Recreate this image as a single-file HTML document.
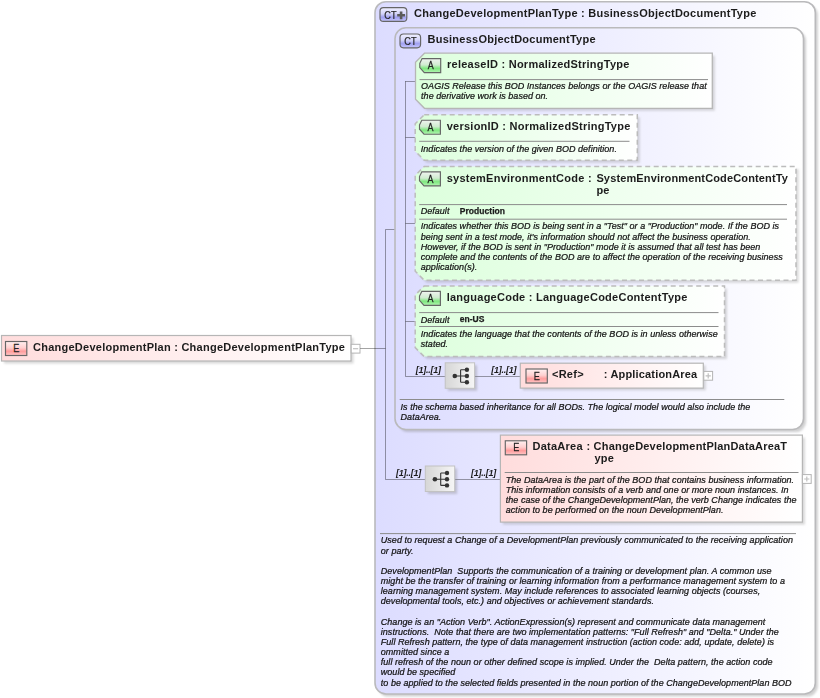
<!DOCTYPE html>
<html><head><meta charset="utf-8"><title>ChangeDevelopmentPlan</title>
<style>
html,body{margin:0;padding:0;background:#ffffff;}
svg{display:block;font-family:"Liberation Sans",sans-serif;}
text{fill:#1c1c1c;}
</style></head><body>
<svg width="820" height="698" viewBox="0 0 820 698">
<defs>
<filter id="blur" x="-10%" y="-10%" width="120%" height="120%"><feGaussianBlur stdDeviation="1"/></filter>
<linearGradient id="gOuter" gradientUnits="userSpaceOnUse" x1="375" y1="0" x2="815" y2="0"><stop offset="0" stop-color="#dcdcff"/><stop offset="1" stop-color="#ffffff"/></linearGradient>
<linearGradient id="gInner" gradientUnits="userSpaceOnUse" x1="395" y1="0" x2="803" y2="0"><stop offset="0" stop-color="#dcdcff"/><stop offset="1" stop-color="#ffffff"/></linearGradient>
<linearGradient id="gRoot" gradientUnits="userSpaceOnUse" x1="1" y1="0" x2="351" y2="0"><stop offset="0" stop-color="#ffdcdc"/><stop offset="1" stop-color="#ffffff"/></linearGradient>
<linearGradient id="gRef" gradientUnits="userSpaceOnUse" x1="520" y1="0" x2="703" y2="0"><stop offset="0" stop-color="#ffdcdc"/><stop offset="1" stop-color="#ffffff"/></linearGradient>
<linearGradient id="gData" gradientUnits="userSpaceOnUse" x1="500" y1="0" x2="802" y2="0"><stop offset="0" stop-color="#ffdcdc"/><stop offset="1" stop-color="#ffffff"/></linearGradient>
<linearGradient id="gA" x1="0" y1="0" x2="0" y2="1"><stop offset="0" stop-color="#f0f4f0"/><stop offset="0.45" stop-color="#d0ecd0"/><stop offset="0.7" stop-color="#7ee87e"/><stop offset="1" stop-color="#b4f4b4"/></linearGradient>
<linearGradient id="gE" x1="0" y1="0" x2="0" y2="1"><stop offset="0" stop-color="#fff0f0"/><stop offset="0.45" stop-color="#ffd0d0"/><stop offset="0.7" stop-color="#ff9c9c"/><stop offset="1" stop-color="#ffc8c8"/></linearGradient>
<linearGradient id="gCT" x1="0" y1="0" x2="0" y2="1"><stop offset="0" stop-color="#f0f0ff"/><stop offset="0.45" stop-color="#d4d4fa"/><stop offset="0.7" stop-color="#a0a0f0"/><stop offset="1" stop-color="#c8c8ff"/></linearGradient>
</defs>
<g opacity="0.999">

<rect x="4.0" y="338.0" width="349.5" height="25.5" rx="0" fill="#808080" opacity="0.3" filter="url(#blur)"/>
<rect x="1.5" y="335.5" width="349.5" height="25.5" fill="url(#gRoot)" stroke="#b6b6b6" stroke-width="1.2"/>
<rect x="5.5" y="341.5" width="21.3" height="14" fill="url(#gE)" stroke="#666666" stroke-width="1.15"/>
<text transform="translate(16.4,352.5) scale(0.86,1)" font-size="10.6" dy="-0.4" text-anchor="middle" fill="#2a2a2a" stroke="#2a2a2a" stroke-width="0.25">E</text>
<text x="33" y="350.5" font-size="11" font-weight="bold" letter-spacing="0.25" >ChangeDevelopmentPlan : ChangeDevelopmentPlanType</text>
<rect x="351.2" y="344.3" width="8.8" height="8.8" fill="#ffffff" stroke="#b4b4b4" stroke-width="1"/>
<path d="M352.99999999999994,348.7 H358.2" stroke="#c0c0c0" stroke-width="1.2" fill="none"/>
<rect x="377.6" y="4.3" width="440.29999999999995" height="692.3" rx="11" fill="#808080" opacity="0.36" filter="url(#blur)"/>
<rect x="375" y="1.7" width="440.29999999999995" height="692.3" rx="11" fill="url(#gOuter)" stroke="#bababc" stroke-width="1.6"/>
<rect x="380" y="7.6" width="26.8" height="13.8" rx="3.5" fill="url(#gCT)" stroke="#666666" stroke-width="1.15"/>
<text transform="translate(384.3,18.5) scale(0.88,1)" font-size="10.4" fill="#333" stroke="#333" stroke-width="0.25">CT</text>
<path d="M397.20000000000005,15.3 H405.0 M401.1,11.4 V19.2" stroke="#5a5a5a" stroke-width="2.6" fill="none"/>
<text x="414" y="17.2" font-size="11" font-weight="bold" letter-spacing="0.25" >ChangeDevelopmentPlanType : BusinessObjectDocumentType</text>
<path d="M360.2,348.5 H385.5" stroke="#000000" stroke-width="1" stroke-opacity="0.36" fill="none"/>
<path d="M385.5,229.5 V479.5" stroke="#000000" stroke-width="1" stroke-opacity="0.36" fill="none"/>
<path d="M385.5,229.5 H405.5" stroke="#000000" stroke-width="1" stroke-opacity="0.36" fill="none"/>
<path d="M385.5,479.5 H425.3" stroke="#000000" stroke-width="1" stroke-opacity="0.36" fill="none"/>
<rect x="397.6" y="30.400000000000002" width="408.5" height="401.7" rx="11" fill="#808080" opacity="0.36" filter="url(#blur)"/>
<rect x="395" y="27.8" width="408.5" height="401.7" rx="11" fill="url(#gInner)" stroke="#bababc" stroke-width="1.6"/>
<rect x="400" y="34" width="20.6" height="13.8" rx="3.5" fill="url(#gCT)" stroke="#666666" stroke-width="1.15"/>
<text transform="translate(404.3,44.9) scale(0.88,1)" font-size="10.4" fill="#333" stroke="#333" stroke-width="0.25">CT</text>
<text x="427.5" y="42.9" font-size="11" font-weight="bold" letter-spacing="0.25" >BusinessObjectDocumentType</text>
<path d="M405.5,81 V376.5" stroke="#000000" stroke-width="1" stroke-opacity="0.36" fill="none"/>
<path d="M405.5,81.5 H415.5" stroke="#000000" stroke-width="1" stroke-opacity="0.36" fill="none"/>
<path d="M427.0,55.7 L714.8,55.7 L714.8,110.8 L427.0,110.8 L418.0,101.8 L418.0,64.7 Z" fill="#808080" opacity="0.3" filter="url(#blur)"/>
<defs><linearGradient id="gAt1" gradientUnits="userSpaceOnUse" x1="415.5" y1="0" x2="712.3" y2="0"><stop offset="0" stop-color="#dcffdc"/><stop offset="1" stop-color="#ffffff"/></linearGradient></defs>
<path d="M424.5,53.2 L712.3,53.2 L712.3,108.3 L424.5,108.3 L415.5,99.3 L415.5,62.2 Z" fill="url(#gAt1)" stroke="#b6b6b6" stroke-width="1.3"/>
<path d="M422.1,58.6 L440.7,58.6 L440.7,72.6 L424.3,72.6 L419.8,67.6 L419.8,63.300000000000004 Z" fill="url(#gA)" stroke="#666666" stroke-width="1.15"/>
<text transform="translate(430.8,69.4) scale(0.86,1)" font-size="10.4" text-anchor="middle" fill="#2a2a2a" stroke="#2a2a2a" stroke-width="0.25">A</text>
<text x="447" y="67.5" font-size="11" font-weight="bold" letter-spacing="0.25" >releaseID : NormalizedStringType</text>
<path d="M419.5,79.6 H708" stroke="#8c8c8c" stroke-width="1" fill="none"/>
<text x="421.1" y="89.1" font-size="9" font-style="italic" letter-spacing="0.03" fill="#000" stroke="#000" stroke-width="0.22" >OAGIS Release this BOD Instances belongs or the OAGIS release that</text>
<text x="421.1" y="99.27" font-size="9" font-style="italic" letter-spacing="0.03" fill="#000" stroke="#000" stroke-width="0.22" >the derivative work is based on.</text>
<path d="M405.5,137.5 H415.2" stroke="#000000" stroke-width="1" stroke-opacity="0.36" fill="none"/>
<path d="M426.7,117.3 L639.8,117.3 L639.8,162.7 L426.7,162.7 L417.7,153.7 L417.7,126.3 Z" fill="#808080" opacity="0.3" filter="url(#blur)"/>
<defs><linearGradient id="gAt2" gradientUnits="userSpaceOnUse" x1="415.2" y1="0" x2="637.3" y2="0"><stop offset="0" stop-color="#dcffdc"/><stop offset="1" stop-color="#ffffff"/></linearGradient></defs>
<path d="M424.2,114.8 L637.3,114.8 L637.3,160.2 L424.2,160.2 L415.2,151.2 L415.2,123.8 Z" fill="url(#gAt2)" stroke="#bcbcbc" stroke-width="1.5" stroke-dasharray="5 3.5"/>
<path d="M421.8,120.2 L440.4,120.2 L440.4,134.2 L424.0,134.2 L419.5,129.2 L419.5,124.9 Z" fill="url(#gA)" stroke="#666666" stroke-width="1.15"/>
<text transform="translate(430.5,131.0) scale(0.86,1)" font-size="10.4" text-anchor="middle" fill="#2a2a2a" stroke="#2a2a2a" stroke-width="0.25">A</text>
<text x="446.7" y="129.9" font-size="11" font-weight="bold" letter-spacing="0.25" >versionID : NormalizedStringType</text>
<path d="M419.2,141.3 H629.5" stroke="#8c8c8c" stroke-width="1" fill="none"/>
<text x="420.8" y="151.7" font-size="9" font-style="italic" letter-spacing="0.03" fill="#000" stroke="#000" stroke-width="0.22" >Indicates the version of the given BOD definition.</text>
<path d="M405.5,223.5 H415.2" stroke="#000000" stroke-width="1" stroke-opacity="0.36" fill="none"/>
<path d="M426.7,169.0 L798.5,169.0 L798.5,282.7 L426.7,282.7 L417.7,273.7 L417.7,178.0 Z" fill="#808080" opacity="0.3" filter="url(#blur)"/>
<defs><linearGradient id="gAt3" gradientUnits="userSpaceOnUse" x1="415.2" y1="0" x2="796" y2="0"><stop offset="0" stop-color="#dcffdc"/><stop offset="1" stop-color="#ffffff"/></linearGradient></defs>
<path d="M424.2,166.5 L796,166.5 L796,280.2 L424.2,280.2 L415.2,271.2 L415.2,175.5 Z" fill="url(#gAt3)" stroke="#bcbcbc" stroke-width="1.5" stroke-dasharray="5 3.5"/>
<path d="M421.8,171.9 L440.4,171.9 L440.4,185.9 L424.0,185.9 L419.5,180.9 L419.5,176.6 Z" fill="url(#gA)" stroke="#666666" stroke-width="1.15"/>
<text transform="translate(430.5,182.70000000000002) scale(0.86,1)" font-size="10.4" text-anchor="middle" fill="#2a2a2a" stroke="#2a2a2a" stroke-width="0.25">A</text>
<text x="446.7" y="181.6" font-size="11" font-weight="bold" letter-spacing="0.25" >systemEnvironmentCode : </text>
<text x="596.4" y="181.6" font-size="11" font-weight="bold" letter-spacing="0.14" >SystemEnvironmentCodeContentTy</text>
<text x="596.4" y="194.3" font-size="11" font-weight="bold" letter-spacing="0.25" >pe</text>
<path d="M419.2,204.6 H787" stroke="#8c8c8c" stroke-width="1" fill="none"/>
<path d="M419.2,219.2 H787" stroke="#8c8c8c" stroke-width="1" fill="none"/>
<text x="420.7" y="214.2" font-size="9" font-style="italic" letter-spacing="0.03" fill="#000" stroke="#000" stroke-width="0.22" >Default</text>
<text x="459.7" y="213.6" font-size="8.5" font-weight="bold" letter-spacing="0.05" stroke="#1c1c1c" stroke-width="0.25">Production</text>
<text x="420.8" y="229.4" font-size="9" font-style="italic" letter-spacing="0.03" fill="#000" stroke="#000" stroke-width="0.22" >Indicates whether this BOD is being sent in a "Test" or a "Production" mode. If the BOD is</text>
<text x="420.8" y="239.57" font-size="9" font-style="italic" letter-spacing="0.03" fill="#000" stroke="#000" stroke-width="0.22" >being sent in a test mode, it's information should not affect the business operation.</text>
<text x="420.8" y="249.74" font-size="9" font-style="italic" letter-spacing="0.03" fill="#000" stroke="#000" stroke-width="0.22" >However, if the BOD is sent in "Production" mode it is assumed that all test has been</text>
<text x="420.8" y="259.91" font-size="9" font-style="italic" letter-spacing="0.03" fill="#000" stroke="#000" stroke-width="0.22" >complete and the contents of the BOD are to affect the operation of the receiving business</text>
<text x="420.8" y="270.08" font-size="9" font-style="italic" letter-spacing="0.03" fill="#000" stroke="#000" stroke-width="0.22" >application(s).</text>
<path d="M405.5,321.5 H415.2" stroke="#000000" stroke-width="1" stroke-opacity="0.36" fill="none"/>
<path d="M426.7,288.5 L727.0,288.5 L727.0,359.1 L426.7,359.1 L417.7,350.1 L417.7,297.5 Z" fill="#808080" opacity="0.3" filter="url(#blur)"/>
<defs><linearGradient id="gAt4" gradientUnits="userSpaceOnUse" x1="415.2" y1="0" x2="724.5" y2="0"><stop offset="0" stop-color="#dcffdc"/><stop offset="1" stop-color="#ffffff"/></linearGradient></defs>
<path d="M424.2,286 L724.5,286 L724.5,356.6 L424.2,356.6 L415.2,347.6 L415.2,295 Z" fill="url(#gAt4)" stroke="#bcbcbc" stroke-width="1.5" stroke-dasharray="5 3.5"/>
<path d="M421.8,291.4 L440.4,291.4 L440.4,305.4 L424.0,305.4 L419.5,300.4 L419.5,296.09999999999997 Z" fill="url(#gA)" stroke="#666666" stroke-width="1.15"/>
<text transform="translate(430.5,302.2) scale(0.86,1)" font-size="10.4" text-anchor="middle" fill="#2a2a2a" stroke="#2a2a2a" stroke-width="0.25">A</text>
<text x="446.7" y="301.3" font-size="11" font-weight="bold" letter-spacing="0.25" >languageCode : LanguageCodeContentType</text>
<path d="M419.2,312.6 H718.5" stroke="#8c8c8c" stroke-width="1" fill="none"/>
<path d="M419.2,326.5 H718.5" stroke="#8c8c8c" stroke-width="1" fill="none"/>
<text x="420.7" y="322.5" font-size="9" font-style="italic" letter-spacing="0.03" fill="#000" stroke="#000" stroke-width="0.22" >Default</text>
<text x="459.7" y="321.8" font-size="8.5" font-weight="bold" letter-spacing="0.05" stroke="#1c1c1c" stroke-width="0.25">en-US</text>
<text x="420.8" y="336.6" font-size="9" font-style="italic" letter-spacing="0.03" fill="#000" stroke="#000" stroke-width="0.22" >Indicates the language that the contents of the BOD is in unless otherwise</text>
<text x="420.8" y="346.77" font-size="9" font-style="italic" letter-spacing="0.03" fill="#000" stroke="#000" stroke-width="0.22" >stated.</text>
<path d="M405.5,376.5 H520.3" stroke="#000000" stroke-width="1" stroke-opacity="0.36" fill="none"/>
<rect x="447.7" y="365.3" width="29.4" height="25.5" rx="0" fill="#808080" opacity="0.35" filter="url(#blur)"/>
<defs><linearGradient id="gS445" gradientUnits="userSpaceOnUse" x1="445.2" y1="0" x2="474.59999999999997" y2="0"><stop offset="0" stop-color="#d6d6d6"/><stop offset="1" stop-color="#f6f6f6"/></linearGradient></defs>
<rect x="445.2" y="362.8" width="29.4" height="25.5" fill="url(#gS445)" stroke="#c2c2c2" stroke-width="1"/>
<path d="M454.8,376.0 H466.9 M460.59999999999997,369.8 V382.2 M460.59999999999997,369.8 H466.9 M460.59999999999997,382.2 H466.9" stroke="#333" stroke-width="1.1" fill="none"/>
<circle cx="454.8" cy="376.0" r="2.3" fill="#333"/>
<circle cx="466.9" cy="369.8" r="2.2" fill="#333"/>
<circle cx="466.9" cy="376.0" r="2.2" fill="#333"/>
<circle cx="466.9" cy="382.2" r="2.2" fill="#333"/>
<text x="415.8" y="373.3" font-size="9" font-weight="bold" font-style="italic" letter-spacing="-0.25" fill="#000">[1]..[1]</text>
<text x="491.2" y="373.3" font-size="9" font-weight="bold" font-style="italic" letter-spacing="-0.25" fill="#000">[1]..[1]</text>
<rect x="522.8" y="365.5" width="183" height="24.8" rx="0" fill="#808080" opacity="0.3" filter="url(#blur)"/>
<rect x="520.3" y="363.2" width="183" height="24.9" fill="url(#gRef)" stroke="#b6b6b6" stroke-width="1.2"/>
<rect x="526" y="369" width="21.3" height="14" fill="url(#gE)" stroke="#666666" stroke-width="1.15"/>
<text transform="translate(536.9,380.0) scale(0.86,1)" font-size="10.6" dy="-0.4" text-anchor="middle" fill="#2a2a2a" stroke="#2a2a2a" stroke-width="0.25">E</text>
<text x="552.0" y="377.8" font-size="11" font-weight="bold" letter-spacing="0.25" >&lt;Ref&gt;</text>
<text x="603.8" y="377.8" font-size="11" font-weight="bold" letter-spacing="0.17" >: ApplicationArea</text>
<rect x="703.8" y="371.4" width="8.8" height="8.8" fill="#ffffff" stroke="#b4b4b4" stroke-width="1"/>
<path d="M705.5999999999999,375.79999999999995 H710.8 M708.1999999999999,373.19999999999993 V378.4" stroke="#c0c0c0" stroke-width="1.2" fill="none"/>
<path d="M399.7,399.5 H784.3" stroke="#8c8c8c" stroke-width="1" fill="none"/>
<text x="400.6" y="409.5" font-size="9" font-style="italic" letter-spacing="0.03" fill="#000" stroke="#000" stroke-width="0.22" >Is the schema based inheritance for all BODs. The logical model would also include the</text>
<text x="400.6" y="419.7" font-size="9" font-style="italic" letter-spacing="0.03" fill="#000" stroke="#000" stroke-width="0.22" >DataArea.</text>
<path d="M454.5,479.5 H500.4" stroke="#000000" stroke-width="1" stroke-opacity="0.36" fill="none"/>
<rect x="427.8" y="468.5" width="29.4" height="25.5" rx="0" fill="#808080" opacity="0.35" filter="url(#blur)"/>
<defs><linearGradient id="gS425" gradientUnits="userSpaceOnUse" x1="425.3" y1="0" x2="454.7" y2="0"><stop offset="0" stop-color="#d6d6d6"/><stop offset="1" stop-color="#f6f6f6"/></linearGradient></defs>
<rect x="425.3" y="466" width="29.4" height="25.5" fill="url(#gS425)" stroke="#c2c2c2" stroke-width="1"/>
<path d="M434.90000000000003,479.2 H447.0 M440.7,473.0 V485.4 M440.7,473.0 H447.0 M440.7,485.4 H447.0" stroke="#333" stroke-width="1.1" fill="none"/>
<circle cx="434.90000000000003" cy="479.2" r="2.3" fill="#333"/>
<circle cx="447.0" cy="473.0" r="2.2" fill="#333"/>
<circle cx="447.0" cy="479.2" r="2.2" fill="#333"/>
<circle cx="447.0" cy="485.4" r="2.2" fill="#333"/>
<text x="396" y="476.2" font-size="9" font-weight="bold" font-style="italic" letter-spacing="-0.25" fill="#000">[1]..[1]</text>
<text x="471.1" y="476.2" font-size="9" font-weight="bold" font-style="italic" letter-spacing="-0.25" fill="#000">[1]..[1]</text>
<rect x="502.9" y="437.6" width="302" height="87" rx="0" fill="#808080" opacity="0.3" filter="url(#blur)"/>
<rect x="500.4" y="435.1" width="302" height="87" fill="url(#gData)" stroke="#b6b6b6" stroke-width="1.2"/>
<rect x="505.3" y="440.8" width="21.3" height="14" fill="url(#gE)" stroke="#666666" stroke-width="1.15"/>
<text transform="translate(516.2,451.8) scale(0.86,1)" font-size="10.6" dy="-0.4" text-anchor="middle" fill="#2a2a2a" stroke="#2a2a2a" stroke-width="0.25">E</text>
<text x="532.5" y="449.6" font-size="11" font-weight="bold" letter-spacing="0.25" >DataArea</text>
<text x="586.5" y="449.6" font-size="11" font-weight="bold" letter-spacing="0.2" >: ChangeDevelopmentPlanDataAreaT</text>
<text x="594.4" y="462.3" font-size="11" font-weight="bold" letter-spacing="0.25" >ype</text>
<path d="M504.7,472.5 H798.5" stroke="#8c8c8c" stroke-width="1" fill="none"/>
<text x="505.8" y="483.3" font-size="9" font-style="italic" letter-spacing="0.03" fill="#000" stroke="#000" stroke-width="0.22" >The DataArea is the part of the BOD that contains business information.</text>
<text x="505.8" y="492.6" font-size="9" font-style="italic" letter-spacing="0.03" fill="#000" stroke="#000" stroke-width="0.22" >This information consists of a verb and one or more noun instances. In</text>
<text x="505.8" y="502.7" font-size="9" font-style="italic" letter-spacing="0.03" fill="#000" stroke="#000" stroke-width="0.22" >the case of the ChangeDevelopmentPlan, the verb Change indicates the</text>
<text x="505.8" y="512.85" font-size="9" font-style="italic" letter-spacing="0.03" fill="#000" stroke="#000" stroke-width="0.22" >action to be performed on the noun DevelopmentPlan.</text>
<rect x="802.4" y="474.6" width="8.8" height="8.8" fill="#ffffff" stroke="#b4b4b4" stroke-width="1"/>
<path d="M804.1999999999999,479.0 H809.4 M806.8,476.4 V481.6" stroke="#c0c0c0" stroke-width="1.2" fill="none"/>
<path d="M380,533.6 H796" stroke="#8c8c8c" stroke-width="1" fill="none"/>
<text x="380.8" y="543.4" font-size="9" font-style="italic" letter-spacing="0.03" fill="#000" stroke="#000" stroke-width="0.22" xml:space="preserve">Used to request a Change of a DevelopmentPlan previously communicated to the receiving application</text>
<text x="380.8" y="553.55" font-size="9" font-style="italic" letter-spacing="0.03" fill="#000" stroke="#000" stroke-width="0.22" xml:space="preserve">or party.</text>
<text x="380.8" y="573.85" font-size="9" font-style="italic" letter-spacing="0.03" fill="#000" stroke="#000" stroke-width="0.22" xml:space="preserve">DevelopmentPlan  Supports the communication of a training or development plan. A common use</text>
<text x="380.8" y="584.0" font-size="9" font-style="italic" letter-spacing="0.03" fill="#000" stroke="#000" stroke-width="0.22" xml:space="preserve">might be the transfer of training or learning information from a performance management system to a</text>
<text x="380.8" y="594.15" font-size="9" font-style="italic" letter-spacing="0.03" fill="#000" stroke="#000" stroke-width="0.22" xml:space="preserve">learning management system. May include references to associated learning objects (courses,</text>
<text x="380.8" y="604.3" font-size="9" font-style="italic" letter-spacing="0.03" fill="#000" stroke="#000" stroke-width="0.22" xml:space="preserve">developmental tools, etc.) and objectives or achievement standards.</text>
<text x="380.8" y="624.6" font-size="9" font-style="italic" letter-spacing="0.03" fill="#000" stroke="#000" stroke-width="0.22" xml:space="preserve">Change is an "Action Verb". ActionExpression(s) represent and communicate data management</text>
<text x="380.8" y="634.75" font-size="9" font-style="italic" letter-spacing="0.03" fill="#000" stroke="#000" stroke-width="0.22" xml:space="preserve">instructions.  Note that there are two implementation patterns: "Full Refresh" and "Delta." Under the</text>
<text x="380.8" y="644.9" font-size="9" font-style="italic" letter-spacing="0.03" fill="#000" stroke="#000" stroke-width="0.22" xml:space="preserve">Full Refresh pattern, the type of data management instruction (action code: add, update, delete) is</text>
<text x="380.8" y="655.05" font-size="9" font-style="italic" letter-spacing="0.03" fill="#000" stroke="#000" stroke-width="0.22" xml:space="preserve">ommitted since a</text>
<text x="380.8" y="665.2" font-size="9" font-style="italic" letter-spacing="0.03" fill="#000" stroke="#000" stroke-width="0.22" xml:space="preserve">full refresh of the noun or other defined scope is implied. Under the  Delta pattern, the action code</text>
<text x="380.8" y="675.35" font-size="9" font-style="italic" letter-spacing="0.03" fill="#000" stroke="#000" stroke-width="0.22" xml:space="preserve">would be specified</text>
<text x="380.8" y="685.5" font-size="9" font-style="italic" letter-spacing="0.03" fill="#000" stroke="#000" stroke-width="0.22" xml:space="preserve">to be applied to the selected fields presented in the noun portion of the ChangeDevelopmentPlan BOD</text>
</g></svg></body></html>
